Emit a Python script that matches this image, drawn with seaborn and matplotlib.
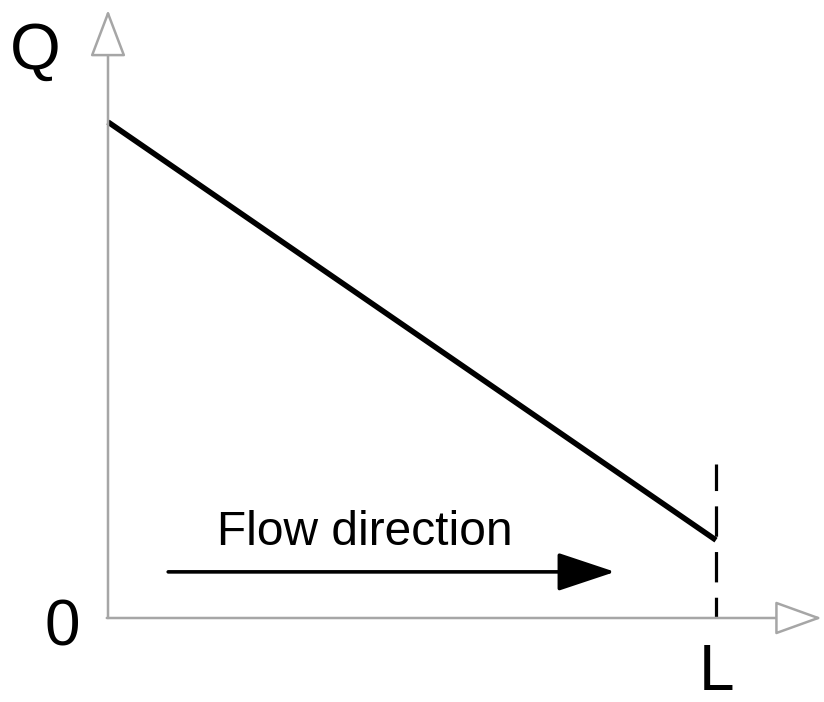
import matplotlib
matplotlib.use("Agg")
import matplotlib.pyplot as plt
import seaborn as sns

# ==========================================
# DATA
# ==========================================

positions = [0.0, 1.0]          # distance along the reach, x / L
discharge = [1.0, 0.157]        # Q, relative
tick_labels = ["0", "L"]
y_label = "Q"
flow_label = "Flow direction"
flow_span = [0.099, 0.834]      # start / end of the flow arrow (x / L)
flow_level = 0.093
dash_top = 0.31

# ==========================================
# STYLE
# ==========================================

sns.set_theme(style="white")
plt.rcParams["font.family"] = ["Liberation Sans", "DejaVu Sans"]

fig = plt.figure(figsize=(8.24, 7.02), dpi=100)
ax = fig.add_axes([0, 0, 1, 1])
ax.set_xlim(-108 / 608, (824 - 108) / 608)
ax.set_ylim(-84 / 496, (702 - 84) / 496)
ax.axis("off")

axis_grey = "#a6a6a6"

# ==========================================
# AXES WITH HOLLOW ARROW HEADS
# ==========================================

ax.annotate(
    "", xy=(0, 1.226), xytext=(0, 0),
    arrowprops=dict(
        arrowstyle="-|>,head_length=1.0,head_width=0.38",
        mutation_scale=30, fc="white", ec=axis_grey, lw=1.8,
        shrinkA=0, shrinkB=0
    )
)

ax.annotate(
    "", xy=(1.174, 0), xytext=(-0.002, 0),
    arrowprops=dict(
        arrowstyle="-|>,head_length=1.0,head_width=0.36",
        mutation_scale=30, fc="white", ec=axis_grey, lw=1.8,
        shrinkA=0, shrinkB=0
    )
)

# ==========================================
# DISCHARGE LINE
# ==========================================

sns.lineplot(
    x=positions, y=discharge, ax=ax,
    color="black", linewidth=4.0, solid_capstyle="butt"
)

# dashed marker at L
ax.plot(
    [positions[1], positions[1]], [0, dash_top],
    color="black", linewidth=2.3, linestyle=(3, (9.5, 4.8))
)

# ==========================================
# FLOW DIRECTION ARROW
# ==========================================

ax.annotate(
    "", xy=(flow_span[1], flow_level), xytext=(flow_span[0], flow_level),
    arrowprops=dict(
        arrowstyle="-|>,head_length=1.2,head_width=0.4",
        mutation_scale=30, fc="black", ec="black", lw=2.6,
        shrinkA=0, shrinkB=0
    )
)

ax.text(
    0.423, 0.147, flow_label,
    fontsize=34.5, ha="center", va="baseline", color="black"
)

# ==========================================
# LABELS
# ==========================================

ax.text(-0.12, 1.141, y_label, fontsize=47, ha="center", va="center", color="black")
ax.text(-0.076, -0.022, tick_labels[0], fontsize=46, ha="center", va="center", color="black")
ax.text(positions[1], -0.111, tick_labels[1], fontsize=46, ha="center", va="center", color="black")

fig.savefig("out.png", dpi=100, facecolor="white")
plt.close(fig)
